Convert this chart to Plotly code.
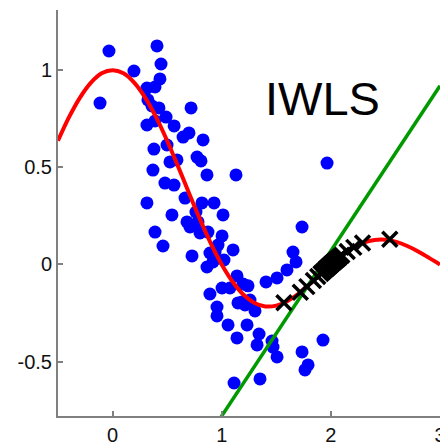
import plotly.graph_objects as go

# Observed samples (blue dots)
sample_x = [-0.033, 0.407, 0.444, 0.196, -0.115, 0.434, 0.315, 0.389, 0.324, 0.361,
            0.425, 0.719, 0.315, 0.389, 0.490, 0.564, 0.646, 0.700, 0.829, 0.379,
            0.499, 0.774, 0.810, 0.526, 0.590, 0.865, 0.370, 1.131, 0.480, 0.563,
            0.664, 0.315, 0.819, 0.930, 0.544, 0.764, 1.012, 0.682, 0.709, 0.783,
            0.801, 0.874, 0.389, 0.462, 1.003, 0.966, 0.939, 1.104, 0.892, 0.728,
            0.920, 1.021, 0.865, 1.140, 1.003, 1.076, 0.892, 0.957, 0.957, 1.149,
            1.195, 1.241, 1.406, 1.507, 1.598, 1.681, 1.653, 1.736, 1.965, 1.186,
            1.259, 1.214, 1.305, 1.058, 1.232, 1.140, 1.342, 1.324, 1.461, 1.470,
            1.507, 1.736, 1.928, 1.791, 1.763, 1.113, 1.351]
sample_y = [1.099, 1.125, 1.032, 0.996, 0.831, 0.955, 0.908, 0.914, 0.847, 0.816,
            0.806, 0.806, 0.718, 0.739, 0.759, 0.713, 0.656, 0.677, 0.641, 0.594,
            0.615, 0.553, 0.533, 0.528, 0.538, 0.461, 0.486, 0.461, 0.419, 0.409,
            0.342, 0.317, 0.317, 0.317, 0.255, 0.270, 0.255, 0.219, 0.193, 0.219,
            0.162, 0.167, 0.167, 0.095, 0.147, 0.100, 0.064, 0.075, 0.059, 0.044,
            0.013, 0.023, -0.013, -0.059, -0.121, -0.121, -0.152, -0.219, -0.265, -0.198,
            -0.100, -0.110, -0.090, -0.069, -0.028, 0.013, 0.064, 0.193, 0.522, -0.193,
            -0.183, -0.208, -0.239, -0.311, -0.311, -0.378, -0.358, -0.414, -0.394, -0.425,
            -0.476, -0.450, -0.389, -0.517, -0.543, -0.610, -0.589]

# True function (red curve)
curve_x = [-0.5, -0.4, -0.3, -0.2, -0.1, 0.0, 0.1, 0.2, 0.3, 0.4, 0.5, 0.6, 0.7, 0.8,
           0.9, 1.0, 1.1, 1.2, 1.3, 1.4, 1.5, 1.6, 1.7, 1.8, 1.9, 2.0, 2.1, 2.2, 2.3,
           2.4, 2.5, 2.6, 2.7, 2.8, 2.9, 3.0]
curve_y = [0.637, 0.757, 0.858, 0.935, 0.984, 1.0, 0.984, 0.935, 0.858, 0.757, 0.637,
           0.505, 0.368, 0.234, 0.109, 0.0, -0.089, -0.156, -0.198, -0.216, -0.212,
           -0.189, -0.152, -0.104, -0.052, 0.0, 0.047, 0.085, 0.112, 0.126, 0.127,
           0.116, 0.095, 0.067, 0.034, 0.0]

# Fitted line (green)
line_x = [0.9, 3.0]
line_y = [-0.865, 0.92]

# Weighted test points (black crosses)
cross_x = [1.57, 1.72, 1.78, 1.84, 1.88, 1.91, 1.93, 1.95, 1.96, 1.97, 1.98, 1.99,
           2.00, 2.01, 2.02, 2.03, 2.04, 2.05, 2.06, 2.07, 2.08, 2.10, 2.15, 2.21,
           2.29, 2.54]
cross_y = [-0.197, -0.143, -0.114, -0.083, -0.062, -0.047, -0.036, -0.026, -0.021,
           -0.015, -0.010, -0.005, 0.0, 0.005, 0.010, 0.014, 0.019, 0.024, 0.028,
           0.033, 0.038, 0.047, 0.067, 0.088, 0.110, 0.130]

x_ticks = [0, 1, 2, 3]
y_ticks = [-0.5, 0, 0.5, 1]

fig = go.Figure()
fig.add_trace(go.Scatter(x=sample_x, y=sample_y, mode="markers",
                         marker=dict(color="#0000ff", size=13, line=dict(width=0)),
                         showlegend=False))
fig.add_trace(go.Scatter(x=curve_x, y=curve_y, mode="lines",
                         line=dict(color="#ff0000", width=4, shape="spline"),
                         showlegend=False))
fig.add_trace(go.Scatter(x=line_x, y=line_y, mode="lines",
                         line=dict(color="#009a00", width=3.5),
                         showlegend=False))
fig.add_trace(go.Scatter(x=cross_x, y=cross_y, mode="markers",
                         marker=dict(symbol="x-thin", size=15, color="black",
                                     line=dict(width=3.5, color="black")),
                         showlegend=False))

fig.add_annotation(x=1.92, y=0.857, xref="x", yref="y", text="IWLS", showarrow=False,
                   font=dict(family="Liberation Sans, Arial", size=47, color="black"))

axis_common = dict(showgrid=False, zeroline=False, showline=True, linecolor="#808080",
                   linewidth=2, ticks="inside", ticklen=5, tickwidth=1.5, tickcolor="#808080",
                   tickfont=dict(family="Liberation Sans, Arial", size=20, color="#111111"))

fig.update_xaxes(range=[-0.5, 3.0], tickvals=x_ticks, ticktext=[str(v) for v in x_ticks],
                 automargin=False, ticklabeloverflow="allow", **axis_common)
fig.update_yaxes(range=[-0.78, 1.31], tickvals=y_ticks,
                 ticktext=["-0.5", "0", "0.5", "1"], automargin=False, **axis_common)

fig.update_layout(width=440, height=443, margin=dict(l=58, r=0, t=10, b=27),
                  plot_bgcolor="white", paper_bgcolor="white")

# remove the page's default body margin so the 440x443 figure fills the window exactly
fig.write_html("out.html", config=dict(displayModeBar=False),
               post_script="document.body.style.margin='0';document.body.style.overflow='hidden';")
